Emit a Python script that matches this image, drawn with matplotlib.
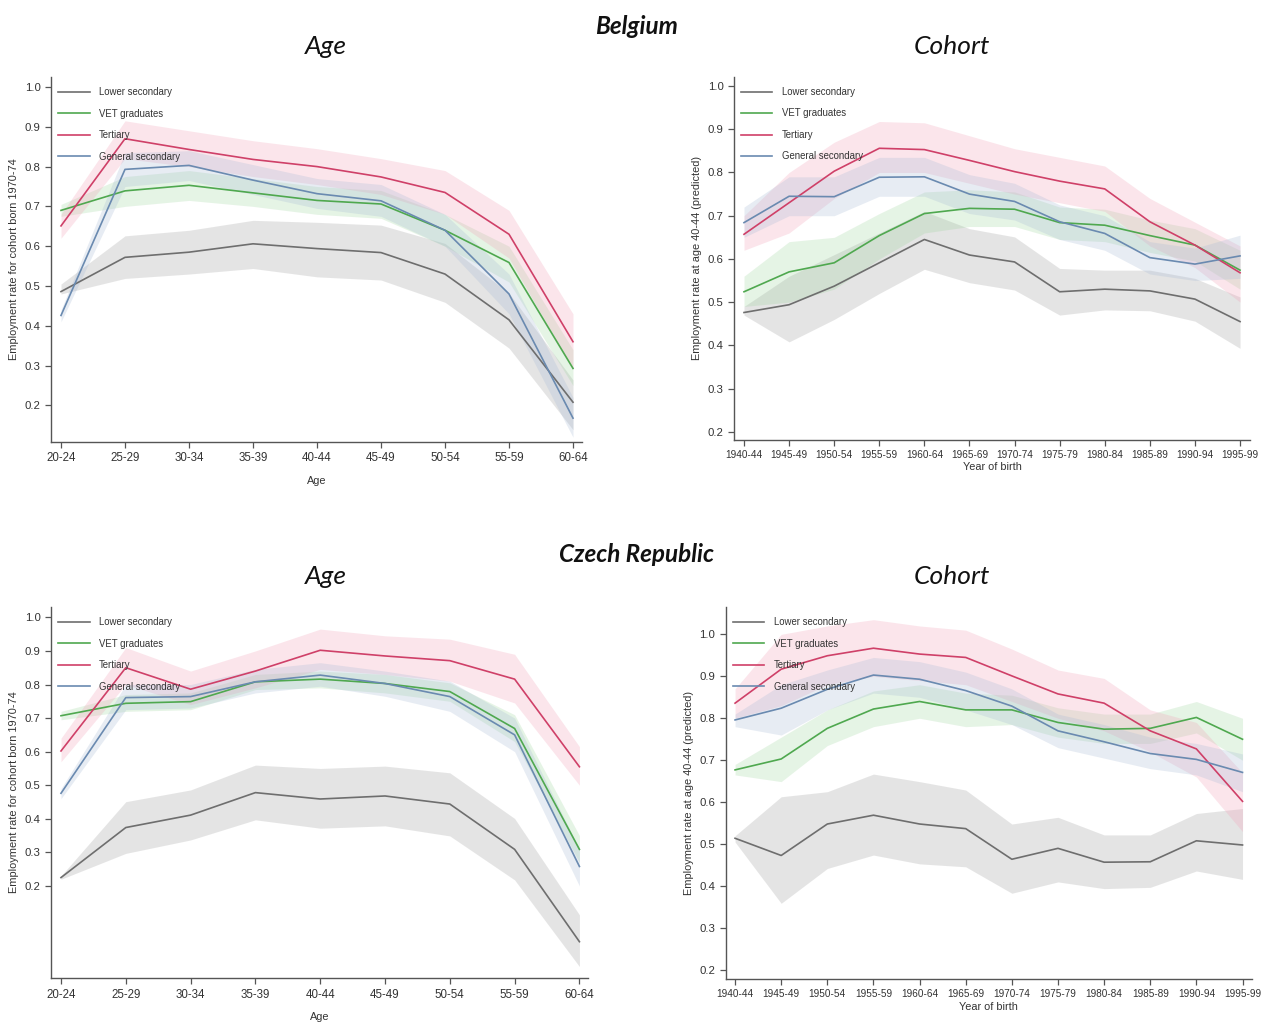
import matplotlib
matplotlib.use("Agg")
import matplotlib.pyplot as plt
import numpy as np

plt.rcParams["font.family"] = ["Liberation Sans", "DejaVu Sans"]

# ---- categories ----
age_groups = ["20-24", "25-29", "30-34", "35-39", "40-44", "45-49", "50-54", "55-59", "60-64"]
cohorts = ["1940-44", "1945-49", "1950-54", "1955-59", "1960-64", "1965-69",
           "1970-74", "1975-79", "1980-84", "1985-89", "1990-94", "1995-99"]
series_names = ["Lower secondary", "VET graduates", "Tertiary", "General secondary"]

# ---- Belgium, by age (cohort born 1970-74) ----
be_age_lower = [0.486, 0.572, 0.585, 0.606, 0.594, 0.584, 0.530, 0.415, 0.208]
be_age_lower_lo = [0.480, 0.519, 0.530, 0.544, 0.523, 0.515, 0.459, 0.344, 0.139]
be_age_lower_hi = [0.505, 0.626, 0.640, 0.665, 0.660, 0.653, 0.607, 0.482, 0.264]
be_age_vet = [0.690, 0.739, 0.753, 0.734, 0.715, 0.706, 0.640, 0.559, 0.293]
be_age_vet_lo = [0.675, 0.700, 0.715, 0.700, 0.680, 0.670, 0.600, 0.510, 0.250]
be_age_vet_hi = [0.705, 0.775, 0.790, 0.770, 0.750, 0.740, 0.680, 0.600, 0.340]
be_age_tert = [0.651, 0.870, 0.843, 0.818, 0.800, 0.774, 0.735, 0.630, 0.360]
be_age_tert_lo = [0.620, 0.820, 0.800, 0.775, 0.755, 0.730, 0.680, 0.570, 0.290]
be_age_tert_hi = [0.680, 0.915, 0.890, 0.865, 0.845, 0.820, 0.790, 0.690, 0.430]
be_age_gen = [0.426, 0.793, 0.803, 0.766, 0.732, 0.714, 0.640, 0.480, 0.168]
be_age_gen_lo = [0.410, 0.750, 0.765, 0.730, 0.695, 0.675, 0.600, 0.430, 0.120]
be_age_gen_hi = [0.440, 0.835, 0.840, 0.805, 0.770, 0.755, 0.680, 0.530, 0.220]

# ---- Belgium, by cohort (age 40-44) ----
be_coh_lower = [0.476, 0.494, 0.537, 0.591, 0.645, 0.609, 0.593, 0.524, 0.530, 0.526, 0.507, 0.455]
be_coh_lower_lo = [0.470, 0.408, 0.460, 0.520, 0.576, 0.545, 0.528, 0.470, 0.482, 0.480, 0.456, 0.393]
be_coh_lower_hi = [0.490, 0.560, 0.610, 0.660, 0.710, 0.670, 0.651, 0.578, 0.574, 0.574, 0.555, 0.512]
be_coh_vet = [0.524, 0.570, 0.591, 0.654, 0.705, 0.717, 0.715, 0.684, 0.678, 0.654, 0.632, 0.574]
be_coh_vet_lo = [0.490, 0.500, 0.530, 0.600, 0.660, 0.675, 0.675, 0.645, 0.640, 0.615, 0.595, 0.530]
be_coh_vet_hi = [0.560, 0.640, 0.650, 0.705, 0.755, 0.760, 0.755, 0.720, 0.715, 0.690, 0.670, 0.620]
be_coh_tert = [0.657, 0.730, 0.803, 0.856, 0.853, 0.828, 0.802, 0.780, 0.762, 0.686, 0.632, 0.568]
be_coh_tert_lo = [0.620, 0.660, 0.740, 0.800, 0.800, 0.775, 0.750, 0.730, 0.710, 0.630, 0.580, 0.500]
be_coh_tert_hi = [0.700, 0.800, 0.870, 0.918, 0.915, 0.885, 0.855, 0.835, 0.815, 0.740, 0.685, 0.630]
be_coh_gen = [0.684, 0.745, 0.744, 0.789, 0.790, 0.750, 0.733, 0.686, 0.659, 0.603, 0.588, 0.607]
be_coh_gen_lo = [0.650, 0.700, 0.700, 0.745, 0.745, 0.705, 0.690, 0.645, 0.620, 0.565, 0.550, 0.555]
be_coh_gen_hi = [0.720, 0.790, 0.790, 0.835, 0.835, 0.795, 0.775, 0.725, 0.700, 0.640, 0.625, 0.655]

# ---- Czech Republic, by age (cohort born 1970-74) ----
cz_age_lower = [0.225, 0.374, 0.411, 0.478, 0.459, 0.468, 0.444, 0.309, 0.034]
cz_age_lower_lo = [0.220, 0.297, 0.337, 0.397, 0.372, 0.379, 0.349, 0.218, -0.040]
cz_age_lower_hi = [0.230, 0.451, 0.486, 0.560, 0.550, 0.557, 0.537, 0.401, 0.114]
cz_age_vet = [0.707, 0.744, 0.749, 0.808, 0.816, 0.803, 0.779, 0.669, 0.309]
cz_age_vet_lo = [0.695, 0.720, 0.725, 0.785, 0.790, 0.775, 0.750, 0.630, 0.270]
cz_age_vet_hi = [0.720, 0.770, 0.775, 0.830, 0.840, 0.830, 0.805, 0.710, 0.350]
cz_age_tert = [0.602, 0.850, 0.786, 0.840, 0.902, 0.885, 0.871, 0.816, 0.555]
cz_age_tert_lo = [0.570, 0.800, 0.740, 0.790, 0.845, 0.830, 0.810, 0.745, 0.500]
cz_age_tert_hi = [0.640, 0.910, 0.840, 0.900, 0.965, 0.945, 0.935, 0.890, 0.615]
cz_age_gen = [0.476, 0.761, 0.764, 0.808, 0.828, 0.803, 0.764, 0.650, 0.258]
cz_age_gen_lo = [0.460, 0.725, 0.730, 0.775, 0.795, 0.765, 0.720, 0.600, 0.200]
cz_age_gen_hi = [0.490, 0.800, 0.800, 0.845, 0.865, 0.840, 0.810, 0.700, 0.310]

# ---- Czech Republic, by cohort (age 40-44) ----
cz_coh_lower = [0.514, 0.473, 0.548, 0.569, 0.548, 0.537, 0.464, 0.490, 0.457, 0.458, 0.508, 0.498]
cz_coh_lower_lo = [0.505, 0.359, 0.442, 0.474, 0.453, 0.446, 0.383, 0.410, 0.394, 0.397, 0.436, 0.416]
cz_coh_lower_hi = [0.520, 0.613, 0.625, 0.667, 0.649, 0.629, 0.548, 0.564, 0.522, 0.522, 0.573, 0.585]
cz_coh_vet = [0.677, 0.703, 0.776, 0.822, 0.840, 0.820, 0.820, 0.790, 0.774, 0.776, 0.802, 0.750]
cz_coh_vet_lo = [0.665, 0.649, 0.735, 0.780, 0.800, 0.780, 0.785, 0.755, 0.740, 0.740, 0.765, 0.700]
cz_coh_vet_hi = [0.690, 0.755, 0.820, 0.865, 0.880, 0.860, 0.855, 0.825, 0.810, 0.810, 0.840, 0.800]
cz_coh_tert = [0.836, 0.917, 0.949, 0.967, 0.953, 0.945, 0.901, 0.858, 0.836, 0.770, 0.727, 0.602]
cz_coh_tert_lo = [0.800, 0.830, 0.880, 0.900, 0.890, 0.880, 0.840, 0.800, 0.770, 0.720, 0.660, 0.530]
cz_coh_tert_hi = [0.870, 1.000, 1.020, 1.035, 1.020, 1.010, 0.965, 0.915, 0.895, 0.820, 0.790, 0.670]
cz_coh_gen = [0.796, 0.824, 0.869, 0.903, 0.893, 0.866, 0.829, 0.770, 0.744, 0.716, 0.702, 0.671]
cz_coh_gen_lo = [0.780, 0.760, 0.820, 0.860, 0.850, 0.820, 0.785, 0.730, 0.705, 0.680, 0.665, 0.625]
cz_coh_gen_hi = [0.810, 0.880, 0.915, 0.945, 0.935, 0.910, 0.870, 0.810, 0.785, 0.755, 0.740, 0.715]

y_ticks = [0.2, 0.3, 0.4, 0.5, 0.6, 0.7, 0.8, 0.9, 1.0]

# ---- styling ----
line_colors = ["#6e6e6e", "#4fa84f", "#cf4068", "#6a8ab0"]
band_colors = ["#9a9a9a", "#9bd49b", "#f3a3b9", "#a9bcd6"]
band_alpha = [0.26, 0.25, 0.28, 0.28]
text_col = "#333333"
spine_col = "#555555"
title_font = ["Lato", "DejaVu Sans"]

fig = plt.figure(figsize=(12.69, 10.23), dpi=100)


def panel(rect, cats, data, xlim, ylim, ylabel, xlabel, xtick_fs, leg_anchor, xlabel_pad):
    ax = fig.add_axes(rect)
    x = np.arange(len(cats))
    for i, (mid, lo, hi) in enumerate(data):
        ax.fill_between(x, lo, hi, color=band_colors[i], alpha=band_alpha[i], lw=0)
    handles = []
    for i, (mid, lo, hi) in enumerate(data):
        h, = ax.plot(x, mid, color=line_colors[i], lw=1.2, label=series_names[i])
        handles.append(h)
    ax.set_xlim(*xlim)
    ax.set_ylim(*ylim)
    ax.set_xticks(x)
    ax.set_xticklabels(cats)
    ax.set_yticks(y_ticks)
    ax.set_yticklabels([f"{v:.1f}" for v in y_ticks])
    for s in ["top", "right"]:
        ax.spines[s].set_visible(False)
    for s in ["left", "bottom"]:
        ax.spines[s].set_color(spine_col)
        ax.spines[s].set_linewidth(1.0)
    ax.tick_params(axis="x", labelsize=xtick_fs)
    ax.tick_params(axis="y", labelsize=8.2)
    ax.tick_params(axis="both", colors=spine_col, labelcolor=text_col,
                   length=4, width=0.9, direction="out")
    ax.set_ylabel(ylabel, fontsize=7.9, color=text_col, labelpad=4)
    ax.set_xlabel(xlabel, fontsize=7.8, color=text_col, labelpad=xlabel_pad)
    ax.legend(handles=handles, loc="upper left", bbox_to_anchor=leg_anchor,
              frameon=False, fontsize=6.9, handlelength=3.3, handletextpad=1.0,
              labelspacing=1.2, borderaxespad=0, borderpad=0,
              labelcolor=text_col)
    return ax


# Belgium — age profile
panel([0.0402, 0.5679, 0.4184, 0.3568], age_groups,
      [(be_age_lower, be_age_lower_lo, be_age_lower_hi),
       (be_age_vet, be_age_vet_lo, be_age_vet_hi),
       (be_age_tert, be_age_tert_lo, be_age_tert_hi),
       (be_age_gen, be_age_gen_lo, be_age_gen_hi)],
      (-0.156, 8.14), (0.108, 1.025),
      "Employment rate for cohort born 1970-74", "Age", 8.3, (0.013, 0.972), 8)

# Belgium — cohort profile
panel([0.5784, 0.5699, 0.4066, 0.3551], cohorts,
      [(be_coh_lower, be_coh_lower_lo, be_coh_lower_hi),
       (be_coh_vet, be_coh_vet_lo, be_coh_vet_hi),
       (be_coh_tert, be_coh_tert_lo, be_coh_tert_hi),
       (be_coh_gen, be_coh_gen_lo, be_coh_gen_hi)],
      (-0.222, 11.22), (0.181, 1.0216),
      "Employment rate at age 40-44 (predicted)", "Year of birth", 7.2, (0.013, 0.972), 1.5)

# Czech Republic — age profile
panel([0.0402, 0.0437, 0.4234, 0.3632], age_groups,
      [(cz_age_lower, cz_age_lower_lo, cz_age_lower_hi),
       (cz_age_vet, cz_age_vet_lo, cz_age_vet_hi),
       (cz_age_tert, cz_age_tert_lo, cz_age_tert_hi),
       (cz_age_gen, cz_age_gen_lo, cz_age_gen_hi)],
      (-0.154, 8.137), (-0.075, 1.0316),
      "Employment rate for cohort born 1970-74", "Age", 8.3, (0.013, 0.972), 8)

# Czech Republic — cohort profile
panel([0.5719, 0.0430, 0.4145, 0.3639], cohorts,
      [(cz_coh_lower, cz_coh_lower_lo, cz_coh_lower_hi),
       (cz_coh_vet, cz_coh_vet_lo, cz_coh_vet_hi),
       (cz_coh_tert, cz_coh_tert_lo, cz_coh_tert_hi),
       (cz_coh_gen, cz_coh_gen_lo, cz_coh_gen_hi)],
      (-0.202, 11.2), (0.1786, 1.0658),
      "Employment rate at age 40-44 (predicted)", "Year of birth", 7.2, (0.013, 0.972), 1.5)

# Headings
H = 1023.0
def fy(py):
    return 1 - py / H

fig.text(0.5012, fy(27), "Belgium", ha="center", va="center", fontsize=17.5,
         fontweight="bold", fontstyle="italic", family=title_font, color="#111111")
fig.text(0.2565, fy(46), "Age", ha="center", va="center", fontsize=19,
         fontstyle="italic", family=title_font, color="#111111")
fig.text(0.7502, fy(46), "Cohort", ha="center", va="center", fontsize=19,
         fontstyle="italic", family=title_font, color="#111111")
fig.text(0.5012, fy(555), "Czech Republic", ha="center", va="center", fontsize=17.5,
         fontweight="bold", fontstyle="italic", family=title_font, color="#111111")
fig.text(0.2565, fy(576), "Age", ha="center", va="center", fontsize=19,
         fontstyle="italic", family=title_font, color="#111111")
fig.text(0.7502, fy(576), "Cohort", ha="center", va="center", fontsize=19,
         fontstyle="italic", family=title_font, color="#111111")

fig.savefig("out.png", dpi=100, facecolor="white")
